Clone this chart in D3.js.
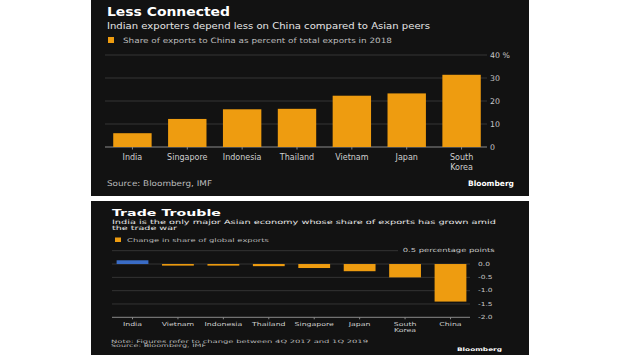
<!DOCTYPE html>
<html><head><meta charset="utf-8">
<script src="https://cdn.jsdelivr.net/npm/d3@7"></script>
<style>html,body{margin:0;padding:0;background:#fff;}svg{display:block;}</style>
</head><body>
<script>
// ---- Data ----
const cats1 = ["India","Singapore","Indonesia","Thailand","Vietnam","Japan","South Korea"];
const vals1 = [6.0, 12.2, 16.4, 16.6, 22.3, 23.3, 31.4];
const ticks1 = [0, 10, 20, 30, 40];
const tickLabels1 = ["0", "10", "20", "30", "40 %"];

const cats2 = ["India","Vietnam","Indonesia","Thailand","Singapore","Japan","South Korea","China"];
const vals2 = [0.14, -0.06, -0.06, -0.08, -0.15, -0.27, -0.5, -1.41];
const ticks2 = [0.5, 0.0, -0.5, -1.0, -1.5, -2.0];
const tickLabels2 = ["0.5 percentage points", "0.0", "-0.5", "-1.0", "-1.5", "-2.0"];

const ORANGE = "#ee9c10", BLUE = "#3a6cc6", BG = "#121212", GRID = "#343434", AXIS = "#8a8a8a";
const FONT = "DejaVu Sans";

const svg = d3.select("body").append("svg").attr("width", 620).attr("height", 355);
svg.append("rect").attr("width", 620).attr("height", 355).attr("fill", "#fff");

function txt(g, x, y, s, o) {
  o = o || {};
  const t = g.append("text")
    .attr("transform", `translate(${x},${y}) scale(1,${o.sy || 1})`)
    .attr("font-family", FONT)
    .attr("font-size", o.size || 8)
    .attr("font-weight", o.weight || "normal")
    .attr("fill", o.fill || "#ddd")
    .attr("text-anchor", o.anchor || "start")
    .attr("dominant-baseline", "central")
    .text(s);
  if (o.len) t.attr("textLength", o.len).attr("lengthAdjust", "spacingAndGlyphs");
  return t;
}

// ================= TOP PANEL =================
const gTop = svg.append("g");
gTop.append("rect").attr("x", 91).attr("y", 0).attr("width", 438).attr("height", 196).attr("fill", BG);

txt(gTop, 107, 12, "Less Connected", {size: 12, weight: "bold", fill: "#fff", len: 123});
txt(gTop, 107, 25.5, "Indian exporters depend less on China compared to Asian peers", {size: 9, fill: "#e6e6e6", len: 323});
gTop.append("rect").attr("x", 108).attr("y", 37).attr("width", 6).attr("height", 6).attr("fill", ORANGE);
txt(gTop, 123, 40.5, "Share of exports to China as percent of total exports in 2018", {size: 7.3, fill: "#bdbdbd", len: 269});

const y1 = d3.scaleLinear().domain([0, 40]).range([147, 55]);
const x1 = d3.scaleBand().domain(cats1).range([105, 489]).paddingInner(0.3).paddingOuter(0.15);

gTop.selectAll(".g1").data(ticks1).join("line")
  .attr("x1", 105).attr("x2", 487)
  .attr("y1", d => y1(d)).attr("y2", d => y1(d))
  .attr("stroke", d => d === 0 ? AXIS : GRID).attr("stroke-width", 1);

ticks1.forEach((t, i) => txt(gTop, 490, y1(t), tickLabels1[i], {size: 7.8, fill: "#c8c8c8"}));

gTop.selectAll(".b1").data(cats1).join("rect")
  .attr("x", d => x1(d)).attr("width", x1.bandwidth())
  .attr("y", (d, i) => y1(vals1[i])).attr("height", (d, i) => y1(0) - y1(vals1[i]))
  .attr("fill", ORANGE);

gTop.selectAll(".t1").data(cats1).join("line")
  .attr("x1", d => x1(d) + x1.bandwidth() / 2).attr("x2", d => x1(d) + x1.bandwidth() / 2)
  .attr("y1", y1(0)).attr("y2", y1(0) + 2.5).attr("stroke", AXIS);

cats1.forEach(c => {
  const parts = c === "South Korea" ? ["South", "Korea"] : [c];
  parts.forEach((p, j) => txt(gTop, x1(c) + x1.bandwidth() / 2, 157 + j * 10, p, {size: 8, anchor: "middle", fill: "#cfcfcf"}));
});

txt(gTop, 107, 183, "Source: Bloomberg, IMF", {size: 7.8, fill: "#bdbdbd", len: 105});
txt(gTop, 468, 183.5, "Bloomberg", {size: 7.5, weight: "bold", fill: "#fff", len: 46});

// ================= BOTTOM PANEL =================
const gBot = svg.append("g");
gBot.append("rect").attr("x", 91).attr("y", 201).attr("width", 438).attr("height", 154).attr("fill", BG);

txt(gBot, 112, 212.5, "Trade Trouble", {size: 11.5, weight: "bold", fill: "#fff", sy: 0.8, len: 109});
txt(gBot, 112, 222.5, "India is the only major Asian economy whose share of exports has grown amid", {size: 8.8, fill: "#e6e6e6", sy: 0.68, len: 384});
txt(gBot, 112, 228.3, "the trade war", {size: 8.8, fill: "#e6e6e6", sy: 0.68, len: 65});
gBot.append("rect").attr("x", 115).attr("y", 237.5).attr("width", 6).attr("height", 4.5).attr("fill", ORANGE);
txt(gBot, 127, 239.7, "Change in share of global exports", {size: 7.3, fill: "#bdbdbd", sy: 0.7, len: 142});

const y2 = d3.scaleLinear().domain([-2, 0.5]).range([317.3, 250.7]);
const x2 = d3.scaleBand().domain(cats2).range([109.8, 473.2]).paddingInner(0.3).paddingOuter(0.15);

gBot.selectAll(".g2").data(ticks2).join("line")
  .attr("x1", 112).attr("x2", d => d === 0.5 ? 398 : 470)
  .attr("y1", d => y2(d)).attr("y2", d => y2(d))
  .attr("stroke", d => d === -2 ? AXIS : GRID).attr("stroke-width", 1);

ticks2.forEach((t, i) => {
  if (i === 0) txt(gBot, 402.7, y2(t), tickLabels2[i], {size: 7.5, fill: "#c8c8c8", sy: 0.75, len: 92});
  else txt(gBot, 478, y2(t), tickLabels2[i], {size: 7.5, fill: "#c8c8c8", sy: 0.75});
});

gBot.selectAll(".b2").data(cats2).join("rect")
  .attr("x", d => x2(d)).attr("width", x2.bandwidth())
  .attr("y", (d, i) => y2(Math.max(0, vals2[i])))
  .attr("height", (d, i) => Math.abs(y2(vals2[i]) - y2(0)))
  .attr("fill", (d, i) => vals2[i] >= 0 ? BLUE : ORANGE);

gBot.selectAll(".t2").data(cats2).join("line")
  .attr("x1", d => x2(d) + x2.bandwidth() / 2).attr("x2", d => x2(d) + x2.bandwidth() / 2)
  .attr("y1", y2(-2)).attr("y2", y2(-2) + 2).attr("stroke", AXIS);

cats2.forEach(c => {
  const parts = c === "South Korea" ? ["South", "Korea"] : [c];
  parts.forEach((p, j) => txt(gBot, x2(c) + x2.bandwidth() / 2, 324 + j * 6.5, p, {size: 7.8, anchor: "middle", fill: "#cfcfcf", sy: 0.7}));
});

txt(gBot, 111, 341, "Note: Figures refer to change between 4Q 2017 and 1Q 2019", {size: 7.6, fill: "#bdbdbd", sy: 0.6, len: 257});
txt(gBot, 111, 345.5, "Source: Bloomberg, IMF", {size: 7.6, fill: "#bdbdbd", sy: 0.6, len: 95});
txt(gBot, 457, 349, "Bloomberg", {size: 7, weight: "bold", fill: "#fff", sy: 0.7, len: 45});
</script>
</body></html>
